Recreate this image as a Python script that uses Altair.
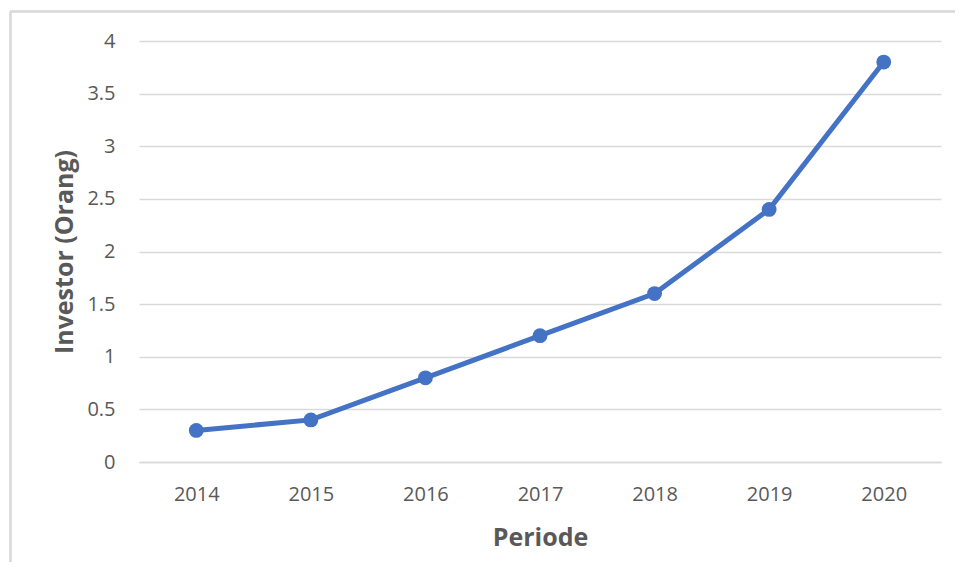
import altair as alt
import pandas as pd

years = ["2014", "2015", "2016", "2017", "2018", "2019", "2020"]
investors = [0.3, 0.4, 0.8, 1.2, 1.6, 2.4, 3.8]
y_ticks = [0, 0.5, 1, 1.5, 2, 2.5, 3, 3.5, 4]

df = pd.DataFrame({"Periode": years, "Investor": investors})

FONT = "Open Sans"
GRAY = "#595959"
GRID = "#d9d9d9"
BLUE = "#4472C4"

W, H = 802, 421

x_enc = alt.X(
    "Periode:N",
    sort=years,
    scale=alt.Scale(type="point", padding=0.5),
    axis=alt.Axis(
        title="Periode",
        labelAngle=0,
        labelFont=FONT,
        labelFontSize=20,
        labelColor=GRAY,
        labelPadding=22,
        ticks=False,
        tickSize=0,
        domain=True,
        domainColor=GRID,
        domainWidth=1.3,
        grid=False,
        titleFont=FONT,
        titleFontSize=25,
        titleFontWeight="bold",
        titleColor=GRAY,
        titleY=75,
        titleBaseline="middle",
    ),
)
y_enc = alt.Y(
    "Investor:Q",
    scale=alt.Scale(domain=[0, 4], nice=False, zero=True),
    axis=alt.Axis(
        title="Investor (Orang)",
        values=y_ticks,
        format="~g",
        labelFont=FONT,
        labelFontSize=20,
        labelColor=GRAY,
        labelPadding=24,
        ticks=False,
        tickSize=0,
        domain=False,
        grid=True,
        gridColor=GRID,
        gridWidth=1.3,
        titleFont=FONT,
        titleFontSize=25,
        titleFontWeight="bold",
        titleColor=GRAY,
        titleAngle=-90,
        titleX=-75,
        titleY=H / 2,
        titleAlign="center",
        titleBaseline="middle",
    ),
)

line = alt.Chart(df).mark_line(color=BLUE, strokeWidth=5).encode(x=x_enc, y=y_enc)
points = alt.Chart(df).mark_point(filled=True, color=BLUE, size=220, opacity=1).encode(x=x_enc, y=y_enc)

frame_left = alt.Chart(df).mark_rule(color=GRID, strokeWidth=1.5).encode(
    x=alt.value(-128.5), y=alt.value(-29.5), y2=alt.value(560)
)
frame_top = alt.Chart(df).mark_rule(color=GRID, strokeWidth=1.5).encode(
    x=alt.value(-128.5), x2=alt.value(900), y=alt.value(-29.5)
)

chart = (
    alt.layer(frame_left, frame_top, line, points)
    .properties(
        width=W,
        height=H,
        background="white",
        autosize=alt.AutoSizeParams(type="none"),
        padding={"left": 131, "top": 33, "right": 14, "bottom": 100},
    )
    .configure_view(strokeWidth=0, stroke=None)
)

chart.save("out.html", embed_options={"renderer": "svg", "actions": False})
